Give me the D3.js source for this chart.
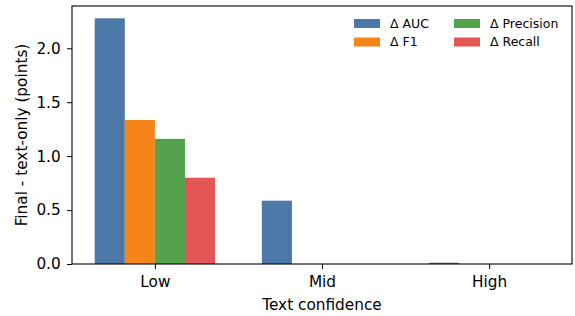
<!DOCTYPE html>
<html>
<head>
<meta charset="utf-8">
<script src="https://cdn.jsdelivr.net/npm/d3@7"></script>
<style>
  body { margin: 0; background: #fff; }
  svg text { font-family: "DejaVu Sans", sans-serif; fill: #000; }
</style>
</head>
<body>
<div id="chart"><svg></svg></div>
<script>
// data
var categories = ["Low", "Mid", "High"];
var metrics = ["\u0394 AUC", "\u0394 F1", "\u0394 Precision", "\u0394 Recall"];
var aucValues = [2.278, 0.587, 0.012];
var f1Values = [1.335, 0, 0];
var precisionValues = [1.16, 0, 0];
var recallValues = [0.80, 0, 0];
var yTicks = [0, 0.5, 1.0, 1.5, 2.0];
var colors = ["#4C78A8", "#F58518", "#54A24B", "#E45756"];

var seriesValues = [aucValues, f1Values, precisionValues, recallValues];

// set the dimensions and margins of the graph
var margin = {top: 6, right: 3, bottom: 52, left: 72},
    width = 575 - margin.left - margin.right,
    height = 316 - margin.top - margin.bottom;

var barW = 0.18;
var nSeries = metrics.length;
var span = [-nSeries / 2 * barW, (categories.length - 1) + nSeries / 2 * barW];
var pad = (span[1] - span[0]) * 0.05;

// ranges
var x = d3.scaleLinear()
    .domain([span[0] - pad, span[1] + pad])
    .range([0, width]);
var yMax = d3.max(seriesValues, function (s) { return d3.max(s); }) * 1.05;
var y = d3.scaleLinear()
    .domain([0, yMax])
    .range([height, 0]);

var svg = d3.select("#chart").select("svg")
    .attr("width", width + margin.left + margin.right)
    .attr("height", height + margin.top + margin.bottom)
    .append("g")
    .attr("transform", "translate(" + margin.left + "," + margin.top + ")");

// bars
var bars = [];
seriesValues.forEach(function (vals, si) {
    vals.forEach(function (v, ci) {
        bars.push({s: si, c: ci, v: v});
    });
});

svg.selectAll(".bar")
    .data(bars)
    .enter().append("rect")
    .attr("class", "bar")
    .attr("x", function (d) {
        return x(d.c + (d.s - nSeries / 2) * barW);
    })
    .attr("width", function (d) {
        return x(barW) - x(0);
    })
    .attr("y", function (d) { return y(Math.max(d.v, 0)); })
    .attr("height", function (d) { return Math.abs(y(d.v) - y(0)); })
    .attr("fill", function (d) { return colors[d.s]; });

// frame
svg.append("rect")
    .attr("x", 0).attr("y", 0)
    .attr("width", width).attr("height", height)
    .attr("fill", "none")
    .attr("stroke", "#000")
    .attr("stroke-width", 1.1);

// x axis
var xAxis = svg.append("g")
    .attr("transform", "translate(0," + height + ")")
    .call(d3.axisBottom(x)
        .tickValues(d3.range(categories.length))
        .tickFormat(function (i) { return categories[i]; })
        .tickSize(5).tickPadding(7.4));
xAxis.select(".domain").remove();
xAxis.selectAll("text").style("font-size", "15.3px");

// y axis
var yAxis = svg.append("g")
    .call(d3.axisLeft(y)
        .tickValues(yTicks)
        .tickFormat(d3.format(".1f"))
        .tickSize(5).tickPadding(6.3));
yAxis.select(".domain").remove();
yAxis.selectAll("text").style("font-size", "15.3px");

// axis labels
svg.append("text")
    .attr("x", width / 2)
    .attr("y", height + 46)
    .attr("text-anchor", "middle")
    .style("font-size", "15.3px")
    .text("Text confidence");

svg.append("text")
    .attr("transform", "translate(" + (-45) + "," + (height / 2) + ") rotate(-90)")
    .attr("text-anchor", "middle")
    .style("font-size", "15.3px")
    .text("Final - text-only (points)");

// legend, two columns, no frame
var legend = svg.append("g")
    .attr("transform", "translate(282,13)");
var item = legend.selectAll(".item")
    .data(metrics)
    .enter().append("g")
    .attr("class", "item")
    .attr("transform", function (d, i) {
        var col = Math.floor(i / 2), row = i % 2;
        return "translate(" + (col * 100) + "," + (row * 18.5) + ")";
    });
item.append("rect")
    .attr("width", 26).attr("height", 9)
    .attr("fill", function (d, i) { return colors[i]; });
item.append("text")
    .attr("x", 36).attr("y", 4.5)
    .attr("dy", "0.35em")
    .style("font-size", "12.5px")
    .text(function (d) { return d; });
</script>
</body>
</html>
